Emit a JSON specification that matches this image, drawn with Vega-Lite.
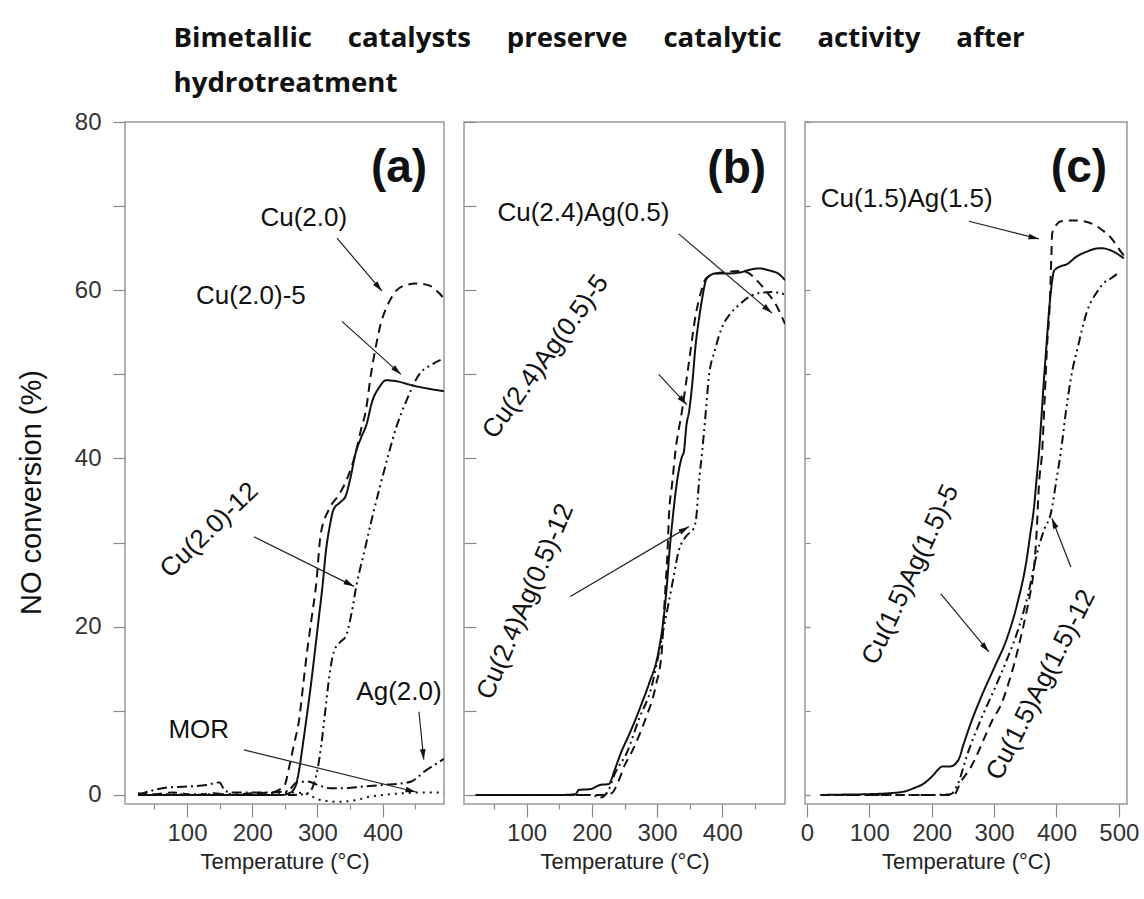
{
  "$schema": "https://vega.github.io/schema/vega-lite/v6.json",
  "padding": {"left": 16, "top": 24, "right": 5, "bottom": 5},
  "background": "white",
  "title": {
    "text": ["Bimetallic\u00a0\u00a0\u00a0\u00a0 catalysts\u00a0\u00a0\u00a0\u00a0 preserve\u00a0\u00a0\u00a0\u00a0 catalytic\u00a0\u00a0\u00a0\u00a0 activity\u00a0\u00a0\u00a0\u00a0 after", "hydrotreatment"],
    "anchor": "start",
    "font": "Open Sans",
    "fontWeight": "bold",
    "fontSize": 27.6,
    "lineHeight": 45,
    "color": "#111",
    "offset": 12,
    "dx": 157
  },
  "datasets": {
    "curves": [
      {"panel": "a", "series": "Cu(2.0)", "kind": "fresh", "T": 25, "v": 0.2},
      {"panel": "a", "series": "Cu(2.0)", "kind": "fresh", "T": 50, "v": 0.1},
      {"panel": "a", "series": "Cu(2.0)", "kind": "fresh", "T": 80, "v": 0.3},
      {"panel": "a", "series": "Cu(2.0)", "kind": "fresh", "T": 110, "v": 0},
      {"panel": "a", "series": "Cu(2.0)", "kind": "fresh", "T": 140, "v": 0.2},
      {"panel": "a", "series": "Cu(2.0)", "kind": "fresh", "T": 170, "v": 0},
      {"panel": "a", "series": "Cu(2.0)", "kind": "fresh", "T": 200, "v": 0.2},
      {"panel": "a", "series": "Cu(2.0)", "kind": "fresh", "T": 230, "v": 0.3},
      {"panel": "a", "series": "Cu(2.0)", "kind": "fresh", "T": 241, "v": 0.6},
      {"panel": "a", "series": "Cu(2.0)", "kind": "fresh", "T": 250, "v": 1.2},
      {"panel": "a", "series": "Cu(2.0)", "kind": "fresh", "T": 256, "v": 3.1},
      {"panel": "a", "series": "Cu(2.0)", "kind": "fresh", "T": 264, "v": 6},
      {"panel": "a", "series": "Cu(2.0)", "kind": "fresh", "T": 272, "v": 9},
      {"panel": "a", "series": "Cu(2.0)", "kind": "fresh", "T": 278, "v": 13},
      {"panel": "a", "series": "Cu(2.0)", "kind": "fresh", "T": 284, "v": 17},
      {"panel": "a", "series": "Cu(2.0)", "kind": "fresh", "T": 291, "v": 21},
      {"panel": "a", "series": "Cu(2.0)", "kind": "fresh", "T": 298, "v": 25},
      {"panel": "a", "series": "Cu(2.0)", "kind": "fresh", "T": 305, "v": 31},
      {"panel": "a", "series": "Cu(2.0)", "kind": "fresh", "T": 318, "v": 34},
      {"panel": "a", "series": "Cu(2.0)", "kind": "fresh", "T": 333, "v": 35.7},
      {"panel": "a", "series": "Cu(2.0)", "kind": "fresh", "T": 345, "v": 37.5},
      {"panel": "a", "series": "Cu(2.0)", "kind": "fresh", "T": 359, "v": 40.8},
      {"panel": "a", "series": "Cu(2.0)", "kind": "fresh", "T": 367, "v": 43.5},
      {"panel": "a", "series": "Cu(2.0)", "kind": "fresh", "T": 374, "v": 45.6},
      {"panel": "a", "series": "Cu(2.0)", "kind": "fresh", "T": 382, "v": 50},
      {"panel": "a", "series": "Cu(2.0)", "kind": "fresh", "T": 390, "v": 53.5},
      {"panel": "a", "series": "Cu(2.0)", "kind": "fresh", "T": 397, "v": 56},
      {"panel": "a", "series": "Cu(2.0)", "kind": "fresh", "T": 405, "v": 57.8},
      {"panel": "a", "series": "Cu(2.0)", "kind": "fresh", "T": 414, "v": 59.2},
      {"panel": "a", "series": "Cu(2.0)", "kind": "fresh", "T": 420, "v": 59.9},
      {"panel": "a", "series": "Cu(2.0)", "kind": "fresh", "T": 435, "v": 60.6},
      {"panel": "a", "series": "Cu(2.0)", "kind": "fresh", "T": 451, "v": 60.8},
      {"panel": "a", "series": "Cu(2.0)", "kind": "fresh", "T": 465, "v": 60.7},
      {"panel": "a", "series": "Cu(2.0)", "kind": "fresh", "T": 476, "v": 60.4},
      {"panel": "a", "series": "Cu(2.0)", "kind": "fresh", "T": 486, "v": 59.7},
      {"panel": "a", "series": "Cu(2.0)", "kind": "fresh", "T": 494, "v": 59},

      {"panel": "a", "series": "Cu(2.0)-5", "kind": "h5", "T": 25, "v": 0},
      {"panel": "a", "series": "Cu(2.0)-5", "kind": "h5", "T": 100, "v": 0},
      {"panel": "a", "series": "Cu(2.0)-5", "kind": "h5", "T": 200, "v": 0},
      {"panel": "a", "series": "Cu(2.0)-5", "kind": "h5", "T": 245, "v": 0},
      {"panel": "a", "series": "Cu(2.0)-5", "kind": "h5", "T": 256, "v": 0.2},
      {"panel": "a", "series": "Cu(2.0)-5", "kind": "h5", "T": 262, "v": 0.5},
      {"panel": "a", "series": "Cu(2.0)-5", "kind": "h5", "T": 267, "v": 1.2},
      {"panel": "a", "series": "Cu(2.0)-5", "kind": "h5", "T": 272, "v": 3},
      {"panel": "a", "series": "Cu(2.0)-5", "kind": "h5", "T": 276, "v": 5.1},
      {"panel": "a", "series": "Cu(2.0)-5", "kind": "h5", "T": 283, "v": 9},
      {"panel": "a", "series": "Cu(2.0)-5", "kind": "h5", "T": 290, "v": 13.1},
      {"panel": "a", "series": "Cu(2.0)-5", "kind": "h5", "T": 296, "v": 17},
      {"panel": "a", "series": "Cu(2.0)-5", "kind": "h5", "T": 302, "v": 21},
      {"panel": "a", "series": "Cu(2.0)-5", "kind": "h5", "T": 308, "v": 25},
      {"panel": "a", "series": "Cu(2.0)-5", "kind": "h5", "T": 313, "v": 29},
      {"panel": "a", "series": "Cu(2.0)-5", "kind": "h5", "T": 319, "v": 32},
      {"panel": "a", "series": "Cu(2.0)-5", "kind": "h5", "T": 325, "v": 34},
      {"panel": "a", "series": "Cu(2.0)-5", "kind": "h5", "T": 335, "v": 34.8},
      {"panel": "a", "series": "Cu(2.0)-5", "kind": "h5", "T": 343, "v": 35.5},
      {"panel": "a", "series": "Cu(2.0)-5", "kind": "h5", "T": 350, "v": 37.5},
      {"panel": "a", "series": "Cu(2.0)-5", "kind": "h5", "T": 359, "v": 40.8},
      {"panel": "a", "series": "Cu(2.0)-5", "kind": "h5", "T": 367, "v": 42.5},
      {"panel": "a", "series": "Cu(2.0)-5", "kind": "h5", "T": 375, "v": 44},
      {"panel": "a", "series": "Cu(2.0)-5", "kind": "h5", "T": 384, "v": 46.8},
      {"panel": "a", "series": "Cu(2.0)-5", "kind": "h5", "T": 395, "v": 48.5},
      {"panel": "a", "series": "Cu(2.0)-5", "kind": "h5", "T": 405, "v": 49.3},
      {"panel": "a", "series": "Cu(2.0)-5", "kind": "h5", "T": 420, "v": 49.2},
      {"panel": "a", "series": "Cu(2.0)-5", "kind": "h5", "T": 445, "v": 48.7},
      {"panel": "a", "series": "Cu(2.0)-5", "kind": "h5", "T": 470, "v": 48.3},
      {"panel": "a", "series": "Cu(2.0)-5", "kind": "h5", "T": 494, "v": 48},

      {"panel": "a", "series": "Cu(2.0)-12", "kind": "h12", "T": 25, "v": 0},
      {"panel": "a", "series": "Cu(2.0)-12", "kind": "h12", "T": 100, "v": 0},
      {"panel": "a", "series": "Cu(2.0)-12", "kind": "h12", "T": 200, "v": 0},
      {"panel": "a", "series": "Cu(2.0)-12", "kind": "h12", "T": 260, "v": 0},
      {"panel": "a", "series": "Cu(2.0)-12", "kind": "h12", "T": 285, "v": 0.2},
      {"panel": "a", "series": "Cu(2.0)-12", "kind": "h12", "T": 293, "v": 1},
      {"panel": "a", "series": "Cu(2.0)-12", "kind": "h12", "T": 300, "v": 3},
      {"panel": "a", "series": "Cu(2.0)-12", "kind": "h12", "T": 306, "v": 6},
      {"panel": "a", "series": "Cu(2.0)-12", "kind": "h12", "T": 312, "v": 10},
      {"panel": "a", "series": "Cu(2.0)-12", "kind": "h12", "T": 318, "v": 14},
      {"panel": "a", "series": "Cu(2.0)-12", "kind": "h12", "T": 325, "v": 17},
      {"panel": "a", "series": "Cu(2.0)-12", "kind": "h12", "T": 335, "v": 18.2},
      {"panel": "a", "series": "Cu(2.0)-12", "kind": "h12", "T": 343, "v": 18.8},
      {"panel": "a", "series": "Cu(2.0)-12", "kind": "h12", "T": 352, "v": 21.5},
      {"panel": "a", "series": "Cu(2.0)-12", "kind": "h12", "T": 360, "v": 25},
      {"panel": "a", "series": "Cu(2.0)-12", "kind": "h12", "T": 372, "v": 29},
      {"panel": "a", "series": "Cu(2.0)-12", "kind": "h12", "T": 384, "v": 33},
      {"panel": "a", "series": "Cu(2.0)-12", "kind": "h12", "T": 397, "v": 37},
      {"panel": "a", "series": "Cu(2.0)-12", "kind": "h12", "T": 410, "v": 40.8},
      {"panel": "a", "series": "Cu(2.0)-12", "kind": "h12", "T": 420, "v": 43.5},
      {"panel": "a", "series": "Cu(2.0)-12", "kind": "h12", "T": 436, "v": 46.8},
      {"panel": "a", "series": "Cu(2.0)-12", "kind": "h12", "T": 456, "v": 50},
      {"panel": "a", "series": "Cu(2.0)-12", "kind": "h12", "T": 476, "v": 51.2},
      {"panel": "a", "series": "Cu(2.0)-12", "kind": "h12", "T": 494, "v": 51.9},

      {"panel": "a", "series": "Ag(2.0)", "kind": "Ag", "T": 25, "v": 0},
      {"panel": "a", "series": "Ag(2.0)", "kind": "Ag", "T": 45, "v": 0.5},
      {"panel": "a", "series": "Ag(2.0)", "kind": "Ag", "T": 70, "v": 0.9},
      {"panel": "a", "series": "Ag(2.0)", "kind": "Ag", "T": 100, "v": 1},
      {"panel": "a", "series": "Ag(2.0)", "kind": "Ag", "T": 130, "v": 1.2},
      {"panel": "a", "series": "Ag(2.0)", "kind": "Ag", "T": 150, "v": 1.5},
      {"panel": "a", "series": "Ag(2.0)", "kind": "Ag", "T": 158, "v": 0.5},
      {"panel": "a", "series": "Ag(2.0)", "kind": "Ag", "T": 170, "v": 0.3},
      {"panel": "a", "series": "Ag(2.0)", "kind": "Ag", "T": 200, "v": 0.3},
      {"panel": "a", "series": "Ag(2.0)", "kind": "Ag", "T": 230, "v": 0.3},
      {"panel": "a", "series": "Ag(2.0)", "kind": "Ag", "T": 255, "v": 0.5},
      {"panel": "a", "series": "Ag(2.0)", "kind": "Ag", "T": 268, "v": 1.5},
      {"panel": "a", "series": "Ag(2.0)", "kind": "Ag", "T": 285, "v": 1.6},
      {"panel": "a", "series": "Ag(2.0)", "kind": "Ag", "T": 300, "v": 1.2},
      {"panel": "a", "series": "Ag(2.0)", "kind": "Ag", "T": 320, "v": 0.8},
      {"panel": "a", "series": "Ag(2.0)", "kind": "Ag", "T": 340, "v": 0.8},
      {"panel": "a", "series": "Ag(2.0)", "kind": "Ag", "T": 370, "v": 1},
      {"panel": "a", "series": "Ag(2.0)", "kind": "Ag", "T": 400, "v": 1.2},
      {"panel": "a", "series": "Ag(2.0)", "kind": "Ag", "T": 430, "v": 1.4},
      {"panel": "a", "series": "Ag(2.0)", "kind": "Ag", "T": 444, "v": 1.6},
      {"panel": "a", "series": "Ag(2.0)", "kind": "Ag", "T": 455, "v": 2.2},
      {"panel": "a", "series": "Ag(2.0)", "kind": "Ag", "T": 464, "v": 2.8},
      {"panel": "a", "series": "Ag(2.0)", "kind": "Ag", "T": 480, "v": 3.6},
      {"panel": "a", "series": "Ag(2.0)", "kind": "Ag", "T": 494, "v": 4.3},

      {"panel": "a", "series": "MOR", "kind": "MOR", "T": 25, "v": 0},
      {"panel": "a", "series": "MOR", "kind": "MOR", "T": 80, "v": 0.1},
      {"panel": "a", "series": "MOR", "kind": "MOR", "T": 150, "v": 0.1},
      {"panel": "a", "series": "MOR", "kind": "MOR", "T": 220, "v": 0.2},
      {"panel": "a", "series": "MOR", "kind": "MOR", "T": 260, "v": 0.3},
      {"panel": "a", "series": "MOR", "kind": "MOR", "T": 285, "v": 0.1},
      {"panel": "a", "series": "MOR", "kind": "MOR", "T": 300, "v": -0.5},
      {"panel": "a", "series": "MOR", "kind": "MOR", "T": 330, "v": -0.8},
      {"panel": "a", "series": "MOR", "kind": "MOR", "T": 360, "v": -0.6},
      {"panel": "a", "series": "MOR", "kind": "MOR", "T": 380, "v": -0.2},
      {"panel": "a", "series": "MOR", "kind": "MOR", "T": 400, "v": 0},
      {"panel": "a", "series": "MOR", "kind": "MOR", "T": 430, "v": 0.2},
      {"panel": "a", "series": "MOR", "kind": "MOR", "T": 460, "v": 0.3},
      {"panel": "a", "series": "MOR", "kind": "MOR", "T": 494, "v": 0.3},

      {"panel": "b", "series": "Cu(2.4)Ag(0.5)", "kind": "fresh", "T": 22, "v": 0},
      {"panel": "b", "series": "Cu(2.4)Ag(0.5)", "kind": "fresh", "T": 100, "v": 0},
      {"panel": "b", "series": "Cu(2.4)Ag(0.5)", "kind": "fresh", "T": 190, "v": 0},
      {"panel": "b", "series": "Cu(2.4)Ag(0.5)", "kind": "fresh", "T": 215, "v": 0},
      {"panel": "b", "series": "Cu(2.4)Ag(0.5)", "kind": "fresh", "T": 230, "v": 0.2},
      {"panel": "b", "series": "Cu(2.4)Ag(0.5)", "kind": "fresh", "T": 240, "v": 1.5},
      {"panel": "b", "series": "Cu(2.4)Ag(0.5)", "kind": "fresh", "T": 250, "v": 3.5},
      {"panel": "b", "series": "Cu(2.4)Ag(0.5)", "kind": "fresh", "T": 261, "v": 5.1},
      {"panel": "b", "series": "Cu(2.4)Ag(0.5)", "kind": "fresh", "T": 272, "v": 7},
      {"panel": "b", "series": "Cu(2.4)Ag(0.5)", "kind": "fresh", "T": 282, "v": 9},
      {"panel": "b", "series": "Cu(2.4)Ag(0.5)", "kind": "fresh", "T": 298, "v": 13},
      {"panel": "b", "series": "Cu(2.4)Ag(0.5)", "kind": "fresh", "T": 307, "v": 17},
      {"panel": "b", "series": "Cu(2.4)Ag(0.5)", "kind": "fresh", "T": 310, "v": 21},
      {"panel": "b", "series": "Cu(2.4)Ag(0.5)", "kind": "fresh", "T": 313, "v": 25},
      {"panel": "b", "series": "Cu(2.4)Ag(0.5)", "kind": "fresh", "T": 316, "v": 29},
      {"panel": "b", "series": "Cu(2.4)Ag(0.5)", "kind": "fresh", "T": 318, "v": 33},
      {"panel": "b", "series": "Cu(2.4)Ag(0.5)", "kind": "fresh", "T": 323, "v": 37},
      {"panel": "b", "series": "Cu(2.4)Ag(0.5)", "kind": "fresh", "T": 328, "v": 40.8},
      {"panel": "b", "series": "Cu(2.4)Ag(0.5)", "kind": "fresh", "T": 338, "v": 45.6},
      {"panel": "b", "series": "Cu(2.4)Ag(0.5)", "kind": "fresh", "T": 348, "v": 51},
      {"panel": "b", "series": "Cu(2.4)Ag(0.5)", "kind": "fresh", "T": 359, "v": 57},
      {"panel": "b", "series": "Cu(2.4)Ag(0.5)", "kind": "fresh", "T": 368, "v": 60},
      {"panel": "b", "series": "Cu(2.4)Ag(0.5)", "kind": "fresh", "T": 375, "v": 61.4},
      {"panel": "b", "series": "Cu(2.4)Ag(0.5)", "kind": "fresh", "T": 390, "v": 62},
      {"panel": "b", "series": "Cu(2.4)Ag(0.5)", "kind": "fresh", "T": 410, "v": 62.2},
      {"panel": "b", "series": "Cu(2.4)Ag(0.5)", "kind": "fresh", "T": 430, "v": 62.3},
      {"panel": "b", "series": "Cu(2.4)Ag(0.5)", "kind": "fresh", "T": 441, "v": 62},
      {"panel": "b", "series": "Cu(2.4)Ag(0.5)", "kind": "fresh", "T": 455, "v": 61},
      {"panel": "b", "series": "Cu(2.4)Ag(0.5)", "kind": "fresh", "T": 467, "v": 59.9},
      {"panel": "b", "series": "Cu(2.4)Ag(0.5)", "kind": "fresh", "T": 482, "v": 58.3},
      {"panel": "b", "series": "Cu(2.4)Ag(0.5)", "kind": "fresh", "T": 496, "v": 56},

      {"panel": "b", "series": "Cu(2.4)Ag(0.5)-5", "kind": "h5", "T": 22, "v": 0},
      {"panel": "b", "series": "Cu(2.4)Ag(0.5)-5", "kind": "h5", "T": 100, "v": 0},
      {"panel": "b", "series": "Cu(2.4)Ag(0.5)-5", "kind": "h5", "T": 150, "v": 0},
      {"panel": "b", "series": "Cu(2.4)Ag(0.5)-5", "kind": "h5", "T": 175, "v": 0.1},
      {"panel": "b", "series": "Cu(2.4)Ag(0.5)-5", "kind": "h5", "T": 180, "v": 0.6},
      {"panel": "b", "series": "Cu(2.4)Ag(0.5)-5", "kind": "h5", "T": 198, "v": 0.7},
      {"panel": "b", "series": "Cu(2.4)Ag(0.5)-5", "kind": "h5", "T": 213, "v": 1.2},
      {"panel": "b", "series": "Cu(2.4)Ag(0.5)-5", "kind": "h5", "T": 226, "v": 1.3},
      {"panel": "b", "series": "Cu(2.4)Ag(0.5)-5", "kind": "h5", "T": 235, "v": 3},
      {"panel": "b", "series": "Cu(2.4)Ag(0.5)-5", "kind": "h5", "T": 245, "v": 5.1},
      {"panel": "b", "series": "Cu(2.4)Ag(0.5)-5", "kind": "h5", "T": 256, "v": 7},
      {"panel": "b", "series": "Cu(2.4)Ag(0.5)-5", "kind": "h5", "T": 267, "v": 9},
      {"panel": "b", "series": "Cu(2.4)Ag(0.5)-5", "kind": "h5", "T": 277, "v": 11},
      {"panel": "b", "series": "Cu(2.4)Ag(0.5)-5", "kind": "h5", "T": 287, "v": 13.1},
      {"panel": "b", "series": "Cu(2.4)Ag(0.5)-5", "kind": "h5", "T": 302, "v": 17},
      {"panel": "b", "series": "Cu(2.4)Ag(0.5)-5", "kind": "h5", "T": 310, "v": 21},
      {"panel": "b", "series": "Cu(2.4)Ag(0.5)-5", "kind": "h5", "T": 315, "v": 25},
      {"panel": "b", "series": "Cu(2.4)Ag(0.5)-5", "kind": "h5", "T": 319, "v": 29},
      {"panel": "b", "series": "Cu(2.4)Ag(0.5)-5", "kind": "h5", "T": 324, "v": 33},
      {"panel": "b", "series": "Cu(2.4)Ag(0.5)-5", "kind": "h5", "T": 330, "v": 37},
      {"panel": "b", "series": "Cu(2.4)Ag(0.5)-5", "kind": "h5", "T": 338, "v": 40.2},
      {"panel": "b", "series": "Cu(2.4)Ag(0.5)-5", "kind": "h5", "T": 341, "v": 40.8},
      {"panel": "b", "series": "Cu(2.4)Ag(0.5)-5", "kind": "h5", "T": 345, "v": 44},
      {"panel": "b", "series": "Cu(2.4)Ag(0.5)-5", "kind": "h5", "T": 349, "v": 45.6},
      {"panel": "b", "series": "Cu(2.4)Ag(0.5)-5", "kind": "h5", "T": 354, "v": 49},
      {"panel": "b", "series": "Cu(2.4)Ag(0.5)-5", "kind": "h5", "T": 359, "v": 53.5},
      {"panel": "b", "series": "Cu(2.4)Ag(0.5)-5", "kind": "h5", "T": 364, "v": 56.5},
      {"panel": "b", "series": "Cu(2.4)Ag(0.5)-5", "kind": "h5", "T": 369, "v": 59},
      {"panel": "b", "series": "Cu(2.4)Ag(0.5)-5", "kind": "h5", "T": 376, "v": 61.4},
      {"panel": "b", "series": "Cu(2.4)Ag(0.5)-5", "kind": "h5", "T": 390, "v": 62},
      {"panel": "b", "series": "Cu(2.4)Ag(0.5)-5", "kind": "h5", "T": 410, "v": 62},
      {"panel": "b", "series": "Cu(2.4)Ag(0.5)-5", "kind": "h5", "T": 426, "v": 62.1},
      {"panel": "b", "series": "Cu(2.4)Ag(0.5)-5", "kind": "h5", "T": 440, "v": 62.4},
      {"panel": "b", "series": "Cu(2.4)Ag(0.5)-5", "kind": "h5", "T": 456, "v": 62.6},
      {"panel": "b", "series": "Cu(2.4)Ag(0.5)-5", "kind": "h5", "T": 470, "v": 62.4},
      {"panel": "b", "series": "Cu(2.4)Ag(0.5)-5", "kind": "h5", "T": 487, "v": 61.9},
      {"panel": "b", "series": "Cu(2.4)Ag(0.5)-5", "kind": "h5", "T": 496, "v": 61.2},

      {"panel": "b", "series": "Cu(2.4)Ag(0.5)-12", "kind": "h12", "T": 22, "v": 0},
      {"panel": "b", "series": "Cu(2.4)Ag(0.5)-12", "kind": "h12", "T": 100, "v": 0},
      {"panel": "b", "series": "Cu(2.4)Ag(0.5)-12", "kind": "h12", "T": 200, "v": 0},
      {"panel": "b", "series": "Cu(2.4)Ag(0.5)-12", "kind": "h12", "T": 213, "v": -0.3},
      {"panel": "b", "series": "Cu(2.4)Ag(0.5)-12", "kind": "h12", "T": 225, "v": 0.5},
      {"panel": "b", "series": "Cu(2.4)Ag(0.5)-12", "kind": "h12", "T": 235, "v": 2.5},
      {"panel": "b", "series": "Cu(2.4)Ag(0.5)-12", "kind": "h12", "T": 254, "v": 5.1},
      {"panel": "b", "series": "Cu(2.4)Ag(0.5)-12", "kind": "h12", "T": 272, "v": 9},
      {"panel": "b", "series": "Cu(2.4)Ag(0.5)-12", "kind": "h12", "T": 292, "v": 13},
      {"panel": "b", "series": "Cu(2.4)Ag(0.5)-12", "kind": "h12", "T": 303, "v": 17},
      {"panel": "b", "series": "Cu(2.4)Ag(0.5)-12", "kind": "h12", "T": 313, "v": 21},
      {"panel": "b", "series": "Cu(2.4)Ag(0.5)-12", "kind": "h12", "T": 323, "v": 25},
      {"panel": "b", "series": "Cu(2.4)Ag(0.5)-12", "kind": "h12", "T": 333, "v": 29},
      {"panel": "b", "series": "Cu(2.4)Ag(0.5)-12", "kind": "h12", "T": 345, "v": 30.8},
      {"panel": "b", "series": "Cu(2.4)Ag(0.5)-12", "kind": "h12", "T": 356, "v": 31.7},
      {"panel": "b", "series": "Cu(2.4)Ag(0.5)-12", "kind": "h12", "T": 360, "v": 33},
      {"panel": "b", "series": "Cu(2.4)Ag(0.5)-12", "kind": "h12", "T": 364, "v": 37},
      {"panel": "b", "series": "Cu(2.4)Ag(0.5)-12", "kind": "h12", "T": 369, "v": 40.8},
      {"panel": "b", "series": "Cu(2.4)Ag(0.5)-12", "kind": "h12", "T": 374, "v": 45},
      {"panel": "b", "series": "Cu(2.4)Ag(0.5)-12", "kind": "h12", "T": 379, "v": 49.5},
      {"panel": "b", "series": "Cu(2.4)Ag(0.5)-12", "kind": "h12", "T": 389, "v": 53},
      {"panel": "b", "series": "Cu(2.4)Ag(0.5)-12", "kind": "h12", "T": 399, "v": 55.5},
      {"panel": "b", "series": "Cu(2.4)Ag(0.5)-12", "kind": "h12", "T": 412, "v": 57.2},
      {"panel": "b", "series": "Cu(2.4)Ag(0.5)-12", "kind": "h12", "T": 426, "v": 58.3},
      {"panel": "b", "series": "Cu(2.4)Ag(0.5)-12", "kind": "h12", "T": 452, "v": 59.6},
      {"panel": "b", "series": "Cu(2.4)Ag(0.5)-12", "kind": "h12", "T": 475, "v": 59.8},
      {"panel": "b", "series": "Cu(2.4)Ag(0.5)-12", "kind": "h12", "T": 496, "v": 59.5},

      {"panel": "c", "series": "Cu(1.5)Ag(1.5)", "kind": "fresh", "T": 22, "v": 0},
      {"panel": "c", "series": "Cu(1.5)Ag(1.5)", "kind": "fresh", "T": 100, "v": 0},
      {"panel": "c", "series": "Cu(1.5)Ag(1.5)", "kind": "fresh", "T": 155, "v": 0},
      {"panel": "c", "series": "Cu(1.5)Ag(1.5)", "kind": "fresh", "T": 200, "v": 0},
      {"panel": "c", "series": "Cu(1.5)Ag(1.5)", "kind": "fresh", "T": 235, "v": 0},
      {"panel": "c", "series": "Cu(1.5)Ag(1.5)", "kind": "fresh", "T": 247, "v": 1.6},
      {"panel": "c", "series": "Cu(1.5)Ag(1.5)", "kind": "fresh", "T": 262, "v": 3.2},
      {"panel": "c", "series": "Cu(1.5)Ag(1.5)", "kind": "fresh", "T": 274, "v": 5},
      {"panel": "c", "series": "Cu(1.5)Ag(1.5)", "kind": "fresh", "T": 284, "v": 6.7},
      {"panel": "c", "series": "Cu(1.5)Ag(1.5)", "kind": "fresh", "T": 298, "v": 9},
      {"panel": "c", "series": "Cu(1.5)Ag(1.5)", "kind": "fresh", "T": 311, "v": 10.7},
      {"panel": "c", "series": "Cu(1.5)Ag(1.5)", "kind": "fresh", "T": 322, "v": 13},
      {"panel": "c", "series": "Cu(1.5)Ag(1.5)", "kind": "fresh", "T": 332, "v": 15.5},
      {"panel": "c", "series": "Cu(1.5)Ag(1.5)", "kind": "fresh", "T": 342, "v": 18.5},
      {"panel": "c", "series": "Cu(1.5)Ag(1.5)", "kind": "fresh", "T": 352, "v": 21.8},
      {"panel": "c", "series": "Cu(1.5)Ag(1.5)", "kind": "fresh", "T": 358, "v": 24},
      {"panel": "c", "series": "Cu(1.5)Ag(1.5)", "kind": "fresh", "T": 364, "v": 27},
      {"panel": "c", "series": "Cu(1.5)Ag(1.5)", "kind": "fresh", "T": 368, "v": 31},
      {"panel": "c", "series": "Cu(1.5)Ag(1.5)", "kind": "fresh", "T": 372, "v": 37},
      {"panel": "c", "series": "Cu(1.5)Ag(1.5)", "kind": "fresh", "T": 377, "v": 40.8},
      {"panel": "c", "series": "Cu(1.5)Ag(1.5)", "kind": "fresh", "T": 381, "v": 47},
      {"panel": "c", "series": "Cu(1.5)Ag(1.5)", "kind": "fresh", "T": 385, "v": 53.5},
      {"panel": "c", "series": "Cu(1.5)Ag(1.5)", "kind": "fresh", "T": 389, "v": 58},
      {"panel": "c", "series": "Cu(1.5)Ag(1.5)", "kind": "fresh", "T": 391, "v": 62.3},
      {"panel": "c", "series": "Cu(1.5)Ag(1.5)", "kind": "fresh", "T": 392, "v": 64.5},
      {"panel": "c", "series": "Cu(1.5)Ag(1.5)", "kind": "fresh", "T": 393, "v": 66.7},
      {"panel": "c", "series": "Cu(1.5)Ag(1.5)", "kind": "fresh", "T": 400, "v": 67.8},
      {"panel": "c", "series": "Cu(1.5)Ag(1.5)", "kind": "fresh", "T": 407, "v": 68.2},
      {"panel": "c", "series": "Cu(1.5)Ag(1.5)", "kind": "fresh", "T": 425, "v": 68.3},
      {"panel": "c", "series": "Cu(1.5)Ag(1.5)", "kind": "fresh", "T": 444, "v": 68.2},
      {"panel": "c", "series": "Cu(1.5)Ag(1.5)", "kind": "fresh", "T": 460, "v": 67.8},
      {"panel": "c", "series": "Cu(1.5)Ag(1.5)", "kind": "fresh", "T": 476, "v": 67},
      {"panel": "c", "series": "Cu(1.5)Ag(1.5)", "kind": "fresh", "T": 490, "v": 66},
      {"panel": "c", "series": "Cu(1.5)Ag(1.5)", "kind": "fresh", "T": 503, "v": 64.6},
      {"panel": "c", "series": "Cu(1.5)Ag(1.5)", "kind": "fresh", "T": 512, "v": 63.8},

      {"panel": "c", "series": "Cu(1.5)Ag(1.5)-5", "kind": "h5", "T": 22, "v": 0},
      {"panel": "c", "series": "Cu(1.5)Ag(1.5)-5", "kind": "h5", "T": 60, "v": 0.05},
      {"panel": "c", "series": "Cu(1.5)Ag(1.5)-5", "kind": "h5", "T": 100, "v": 0.1},
      {"panel": "c", "series": "Cu(1.5)Ag(1.5)-5", "kind": "h5", "T": 130, "v": 0.2},
      {"panel": "c", "series": "Cu(1.5)Ag(1.5)-5", "kind": "h5", "T": 155, "v": 0.4},
      {"panel": "c", "series": "Cu(1.5)Ag(1.5)-5", "kind": "h5", "T": 171, "v": 0.8},
      {"panel": "c", "series": "Cu(1.5)Ag(1.5)-5", "kind": "h5", "T": 188, "v": 1.4},
      {"panel": "c", "series": "Cu(1.5)Ag(1.5)-5", "kind": "h5", "T": 203, "v": 2.4},
      {"panel": "c", "series": "Cu(1.5)Ag(1.5)-5", "kind": "h5", "T": 210, "v": 3},
      {"panel": "c", "series": "Cu(1.5)Ag(1.5)-5", "kind": "h5", "T": 217, "v": 3.4},
      {"panel": "c", "series": "Cu(1.5)Ag(1.5)-5", "kind": "h5", "T": 230, "v": 3.4},
      {"panel": "c", "series": "Cu(1.5)Ag(1.5)-5", "kind": "h5", "T": 243, "v": 4.2},
      {"panel": "c", "series": "Cu(1.5)Ag(1.5)-5", "kind": "h5", "T": 251, "v": 6},
      {"panel": "c", "series": "Cu(1.5)Ag(1.5)-5", "kind": "h5", "T": 262, "v": 8.4},
      {"panel": "c", "series": "Cu(1.5)Ag(1.5)-5", "kind": "h5", "T": 279, "v": 11.6},
      {"panel": "c", "series": "Cu(1.5)Ag(1.5)-5", "kind": "h5", "T": 300, "v": 15.1},
      {"panel": "c", "series": "Cu(1.5)Ag(1.5)-5", "kind": "h5", "T": 321, "v": 18.7},
      {"panel": "c", "series": "Cu(1.5)Ag(1.5)-5", "kind": "h5", "T": 337, "v": 22.7},
      {"panel": "c", "series": "Cu(1.5)Ag(1.5)-5", "kind": "h5", "T": 352, "v": 27.9},
      {"panel": "c", "series": "Cu(1.5)Ag(1.5)-5", "kind": "h5", "T": 358, "v": 31},
      {"panel": "c", "series": "Cu(1.5)Ag(1.5)-5", "kind": "h5", "T": 364, "v": 34.2},
      {"panel": "c", "series": "Cu(1.5)Ag(1.5)-5", "kind": "h5", "T": 368, "v": 37.5},
      {"panel": "c", "series": "Cu(1.5)Ag(1.5)-5", "kind": "h5", "T": 372, "v": 40.8},
      {"panel": "c", "series": "Cu(1.5)Ag(1.5)-5", "kind": "h5", "T": 376, "v": 45},
      {"panel": "c", "series": "Cu(1.5)Ag(1.5)-5", "kind": "h5", "T": 380, "v": 49.5},
      {"panel": "c", "series": "Cu(1.5)Ag(1.5)-5", "kind": "h5", "T": 384, "v": 53.5},
      {"panel": "c", "series": "Cu(1.5)Ag(1.5)-5", "kind": "h5", "T": 388, "v": 57.5},
      {"panel": "c", "series": "Cu(1.5)Ag(1.5)-5", "kind": "h5", "T": 392, "v": 60.5},
      {"panel": "c", "series": "Cu(1.5)Ag(1.5)-5", "kind": "h5", "T": 396, "v": 62.3},
      {"panel": "c", "series": "Cu(1.5)Ag(1.5)-5", "kind": "h5", "T": 405, "v": 62.8},
      {"panel": "c", "series": "Cu(1.5)Ag(1.5)-5", "kind": "h5", "T": 417, "v": 63.1},
      {"panel": "c", "series": "Cu(1.5)Ag(1.5)-5", "kind": "h5", "T": 432, "v": 64},
      {"panel": "c", "series": "Cu(1.5)Ag(1.5)-5", "kind": "h5", "T": 449, "v": 64.6},
      {"panel": "c", "series": "Cu(1.5)Ag(1.5)-5", "kind": "h5", "T": 460, "v": 64.9},
      {"panel": "c", "series": "Cu(1.5)Ag(1.5)-5", "kind": "h5", "T": 471, "v": 65},
      {"panel": "c", "series": "Cu(1.5)Ag(1.5)-5", "kind": "h5", "T": 485, "v": 64.8},
      {"panel": "c", "series": "Cu(1.5)Ag(1.5)-5", "kind": "h5", "T": 498, "v": 64.3},
      {"panel": "c", "series": "Cu(1.5)Ag(1.5)-5", "kind": "h5", "T": 508, "v": 63.8},

      {"panel": "c", "series": "Cu(1.5)Ag(1.5)-12", "kind": "h12", "T": 22, "v": 0},
      {"panel": "c", "series": "Cu(1.5)Ag(1.5)-12", "kind": "h12", "T": 100, "v": 0},
      {"panel": "c", "series": "Cu(1.5)Ag(1.5)-12", "kind": "h12", "T": 160, "v": 0},
      {"panel": "c", "series": "Cu(1.5)Ag(1.5)-12", "kind": "h12", "T": 200, "v": 0},
      {"panel": "c", "series": "Cu(1.5)Ag(1.5)-12", "kind": "h12", "T": 230, "v": 0.1},
      {"panel": "c", "series": "Cu(1.5)Ag(1.5)-12", "kind": "h12", "T": 243, "v": 1.5},
      {"panel": "c", "series": "Cu(1.5)Ag(1.5)-12", "kind": "h12", "T": 256, "v": 4.6},
      {"panel": "c", "series": "Cu(1.5)Ag(1.5)-12", "kind": "h12", "T": 268, "v": 7},
      {"panel": "c", "series": "Cu(1.5)Ag(1.5)-12", "kind": "h12", "T": 279, "v": 9},
      {"panel": "c", "series": "Cu(1.5)Ag(1.5)-12", "kind": "h12", "T": 300, "v": 12.5},
      {"panel": "c", "series": "Cu(1.5)Ag(1.5)-12", "kind": "h12", "T": 320, "v": 16},
      {"panel": "c", "series": "Cu(1.5)Ag(1.5)-12", "kind": "h12", "T": 340, "v": 20},
      {"panel": "c", "series": "Cu(1.5)Ag(1.5)-12", "kind": "h12", "T": 355, "v": 24},
      {"panel": "c", "series": "Cu(1.5)Ag(1.5)-12", "kind": "h12", "T": 368, "v": 28.5},
      {"panel": "c", "series": "Cu(1.5)Ag(1.5)-12", "kind": "h12", "T": 380, "v": 31.5},
      {"panel": "c", "series": "Cu(1.5)Ag(1.5)-12", "kind": "h12", "T": 391, "v": 33.5},
      {"panel": "c", "series": "Cu(1.5)Ag(1.5)-12", "kind": "h12", "T": 400, "v": 37.5},
      {"panel": "c", "series": "Cu(1.5)Ag(1.5)-12", "kind": "h12", "T": 407, "v": 40.8},
      {"panel": "c", "series": "Cu(1.5)Ag(1.5)-12", "kind": "h12", "T": 415, "v": 45.5},
      {"panel": "c", "series": "Cu(1.5)Ag(1.5)-12", "kind": "h12", "T": 423, "v": 49.5},
      {"panel": "c", "series": "Cu(1.5)Ag(1.5)-12", "kind": "h12", "T": 435, "v": 53.5},
      {"panel": "c", "series": "Cu(1.5)Ag(1.5)-12", "kind": "h12", "T": 449, "v": 57.5},
      {"panel": "c", "series": "Cu(1.5)Ag(1.5)-12", "kind": "h12", "T": 465, "v": 59.8},
      {"panel": "c", "series": "Cu(1.5)Ag(1.5)-12", "kind": "h12", "T": 478, "v": 61},
      {"panel": "c", "series": "Cu(1.5)Ag(1.5)-12", "kind": "h12", "T": 487, "v": 61.4},
      {"panel": "c", "series": "Cu(1.5)Ag(1.5)-12", "kind": "h12", "T": 498, "v": 62}
    ],
    "labels": [
      {"panel": "a", "text": "Cu(2.0)", "T": 279, "v": 68.6},
      {"panel": "a", "text": "Cu(2.0)-5", "T": 198, "v": 59.3},
      {"panel": "a", "text": "Cu(2.0)-12", "T": 134, "v": 31.5},
      {"panel": "a", "text": "MOR", "T": 118, "v": 7.7},
      {"panel": "a", "text": "Ag(2.0)", "T": 425, "v": 12.3},
      {"panel": "b", "text": "Cu(2.4)Ag(0.5)", "T": 187, "v": 69.2},
      {"panel": "b", "text": "Cu(2.4)Ag(0.5)-5", "T": 129, "v": 52.1},
      {"panel": "b", "text": "Cu(2.4)Ag(0.5)-12", "T": 98, "v": 23},
      {"panel": "c", "text": "Cu(1.5)Ag(1.5)", "T": 160, "v": 70.8},
      {"panel": "c", "text": "Cu(1.5)Ag(1.5)-5", "T": 166, "v": 26.2},
      {"panel": "c", "text": "Cu(1.5)Ag(1.5)-12", "T": 375, "v": 13.1}
    ],
    "tags": [
      {"panel": "a", "text": "(a)", "T": 425, "v": 74.5},
      {"panel": "b", "text": "(b)", "T": 422, "v": 74.4},
      {"panel": "c", "text": "(c)", "T": 436, "v": 74.5}
    ],
    "arrows": [
      {"panel": "a", "T": 329.9, "v": 66.2, "T2": 398.9, "v2": 59.9, "dir": 140},
      {"panel": "a", "T": 337.6, "v": 56.3, "T2": 428, "v2": 50, "dir": 132},
      {"panel": "a", "T": 202.7, "v": 30.7, "T2": 356, "v2": 24.8, "dir": 117},
      {"panel": "a", "T": 187.4, "v": 5.36, "T2": 451, "v2": 0.36, "dir": 104},
      {"panel": "a", "T": 455.6, "v": 9.9, "T2": 463, "v2": 4.2, "dir": 174},
      {"panel": "b", "T": 333, "v": 66.7, "T2": 476, "v2": 57.3, "dir": 130},
      {"panel": "b", "T": 302.5, "v": 50, "T2": 345.5, "v2": 46.4, "dir": 137},
      {"panel": "b", "T": 167, "v": 23.6, "T2": 348.6, "v2": 31.9, "dir": 59},
      {"panel": "c", "T": 259.6, "v": 68.2, "T2": 371.8, "v2": 66.1, "dir": 104},
      {"panel": "c", "T": 214.7, "v": 23.9, "T2": 291.7, "v2": 17, "dir": 140},
      {"panel": "c", "T": 423, "v": 27.1, "T2": 392.6, "v2": 32.9, "dir": -22}
    ]
  },
  "spacing": 20,
  "bounds": "flush",
  "hconcat": [
    {
      "width": 319,
      "height": 682,
      "resolve": {"axis": {"x": "independent"}},
      "layer": [
        {
          "data": {"name": "curves"},
          "transform": [{"filter": "datum.panel === 'a'"}],
          "mark": {"type": "line", "color": "#111", "strokeWidth": 2, "clip": true, "interpolate": "monotone"},
          "encoding": {
            "x": {"field": "T", "type": "quantitative", "scale": {"domain": [5, 494], "nice": false, "zero": false},
              "axis": {"title": "Temperature (°C)", "orient": "bottom", "values": [100, 200, 300, 400], "tickSize": 13}},
            "y": {"field": "v", "type": "quantitative", "scale": {"domain": [-1.07, 80], "nice": false, "zero": false},
              "axis": {"title": "NO conversion (%)", "values": [0, 10, 20, 30, 40, 50, 60, 70, 80],
                "labelOpacity": {"condition": {"test": "datum.value % 20 !== 0", "value": 0}, "value": 1},
                "tickSize": 12, "labelPadding": 12, "titleFontSize": 29, "titlePadding": 28, "titleY": 370, "titleColor": "#111"}},
            "detail": {"field": "series"},
            "strokeDash": {"field": "kind", "type": "nominal", "legend": null,
              "scale": {"domain": ["fresh", "h5", "h12", "Ag", "MOR"], "range": [[9, 6], [1, 0], [9, 4, 2, 4, 2, 4], [10, 4, 2, 4], [2, 5]]}}
          }
        },
        {
          "data": {"name": "labels"},
          "transform": [{"filter": "datum.panel === 'a' && datum.text !== 'Cu(2.0)-12'"}],
          "mark": {"type": "text", "font": "Liberation Sans", "fontSize": 26, "color": "#111"},
          "encoding": {
            "x": {"field": "T", "type": "quantitative",
              "axis": {"title": null, "orient": "bottom", "values": [50, 150, 250, 350, 450], "tickSize": 5, "labels": false}},
            "y": {"field": "v", "type": "quantitative"},
            "text": {"field": "text"}
          }
        },
        {
          "data": {"name": "labels"},
          "transform": [{"filter": "datum.text === 'Cu(2.0)-12'"}],
          "mark": {"type": "text", "font": "Liberation Sans", "fontSize": 26, "color": "#111", "angle": -44},
          "encoding": {"x": {"field": "T", "type": "quantitative", "axis": null}, "y": {"field": "v", "type": "quantitative"}, "text": {"field": "text"}}
        },
        {
          "data": {"name": "tags"},
          "transform": [{"filter": "datum.panel === 'a'"}],
          "mark": {"type": "text", "font": "Liberation Sans", "fontSize": 46, "fontWeight": "bold", "color": "#111"},
          "encoding": {"x": {"field": "T", "type": "quantitative", "axis": null}, "y": {"field": "v", "type": "quantitative"}, "text": {"field": "text"}}
        },
        {
          "data": {"name": "arrows"},
          "transform": [{"filter": "datum.panel === 'a'"}],
          "mark": {"type": "rule", "color": "#222", "strokeWidth": 1.2},
          "encoding": {"x": {"field": "T", "type": "quantitative", "axis": null}, "y": {"field": "v", "type": "quantitative"}, "x2": {"field": "T2"}, "y2": {"field": "v2"}}
        },
        {
          "data": {"name": "arrows"},
          "transform": [{"filter": "datum.panel === 'a'"}],
          "mark": {"type": "point", "shape": "M0,0L0.6,2.2L-0.6,2.2Z", "filled": true, "color": "#111", "size": 90, "opacity": 1},
          "encoding": {"x": {"field": "T2", "type": "quantitative", "axis": null}, "y": {"field": "v2", "type": "quantitative"}, "angle": {"field": "dir", "type": "quantitative", "scale": null}}
        }
      ]
    },
    {
      "width": 321,
      "height": 682,
      "layer": [
        {
          "data": {"name": "curves"},
          "transform": [{"filter": "datum.panel === 'b'"}],
          "mark": {"type": "line", "color": "#111", "strokeWidth": 2, "clip": true, "interpolate": "monotone"},
          "encoding": {
            "x": {"field": "T", "type": "quantitative", "scale": {"domain": [4, 496], "nice": false, "zero": false},
              "axis": {"title": "Temperature (°C)", "values": [50, 100, 150, 200, 250, 300, 350, 400, 450],
                "labelExpr": "datum.value % 100 === 0 ? datum.label : ''",
                "tickSize": {"condition": {"test": "datum.value % 100 === 0", "value": 13}, "value": 5}}},
            "y": {"field": "v", "type": "quantitative", "scale": {"domain": [-1.07, 80], "nice": false, "zero": false},
              "axis": {"title": null, "labels": false, "values": [0, 10, 20, 30, 40, 50, 60, 70, 80], "tickSize": -12}},
            "detail": {"field": "series"},
            "strokeDash": {"field": "kind", "type": "nominal", "legend": null,
              "scale": {"domain": ["fresh", "h5", "h12", "Ag", "MOR"], "range": [[9, 6], [1, 0], [9, 4, 2, 4, 2, 4], [10, 4, 2, 4], [2, 5]]}}
          }
        },
        {
          "data": {"name": "labels"},
          "transform": [{"filter": "datum.text === 'Cu(2.4)Ag(0.5)'"}],
          "mark": {"type": "text", "font": "Liberation Sans", "fontSize": 26, "color": "#111"},
          "encoding": {"x": {"field": "T", "type": "quantitative"}, "y": {"field": "v", "type": "quantitative"}, "text": {"field": "text"}}
        },
        {
          "data": {"name": "labels"},
          "transform": [{"filter": "datum.text === 'Cu(2.4)Ag(0.5)-5'"}],
          "mark": {"type": "text", "font": "Liberation Sans", "fontSize": 26, "color": "#111", "angle": -54},
          "encoding": {"x": {"field": "T", "type": "quantitative"}, "y": {"field": "v", "type": "quantitative"}, "text": {"field": "text"}}
        },
        {
          "data": {"name": "labels"},
          "transform": [{"filter": "datum.text === 'Cu(2.4)Ag(0.5)-12'"}],
          "mark": {"type": "text", "font": "Liberation Sans", "fontSize": 26, "color": "#111", "angle": -67},
          "encoding": {"x": {"field": "T", "type": "quantitative"}, "y": {"field": "v", "type": "quantitative"}, "text": {"field": "text"}}
        },
        {
          "data": {"name": "tags"},
          "transform": [{"filter": "datum.panel === 'b'"}],
          "mark": {"type": "text", "font": "Liberation Sans", "fontSize": 46, "fontWeight": "bold", "color": "#111"},
          "encoding": {"x": {"field": "T", "type": "quantitative"}, "y": {"field": "v", "type": "quantitative"}, "text": {"field": "text"}}
        },
        {
          "data": {"name": "arrows"},
          "transform": [{"filter": "datum.panel === 'b'"}],
          "mark": {"type": "rule", "color": "#222", "strokeWidth": 1.2},
          "encoding": {"x": {"field": "T", "type": "quantitative"}, "y": {"field": "v", "type": "quantitative"}, "x2": {"field": "T2"}, "y2": {"field": "v2"}}
        },
        {
          "data": {"name": "arrows"},
          "transform": [{"filter": "datum.panel === 'b'"}],
          "mark": {"type": "point", "shape": "M0,0L0.6,2.2L-0.6,2.2Z", "filled": true, "color": "#111", "size": 90, "opacity": 1},
          "encoding": {"x": {"field": "T2", "type": "quantitative"}, "y": {"field": "v2", "type": "quantitative"}, "angle": {"field": "dir", "type": "quantitative", "scale": null}}
        }
      ]
    },
    {
      "width": 322,
      "height": 682,
      "layer": [
        {
          "data": {"name": "curves"},
          "transform": [{"filter": "datum.panel === 'c'"}],
          "mark": {"type": "line", "color": "#111", "strokeWidth": 2, "clip": true, "interpolate": "monotone"},
          "encoding": {
            "x": {"field": "T", "type": "quantitative", "scale": {"domain": [-3, 513], "nice": false, "zero": false},
              "axis": {"title": "Temperature (°C)", "values": [0, 50, 100, 150, 200, 250, 300, 350, 400, 450, 500],
                "labelExpr": "datum.value % 100 === 0 ? datum.label : ''",
                "tickSize": {"condition": {"test": "datum.value % 100 === 0", "value": 13}, "value": 5}}},
            "y": {"field": "v", "type": "quantitative", "scale": {"domain": [-1.07, 80], "nice": false, "zero": false},
              "axis": {"title": null, "labels": false, "values": [0, 10, 20, 30, 40, 50, 60, 70, 80], "tickSize": -5}},
            "detail": {"field": "series"},
            "strokeDash": {"field": "kind", "type": "nominal", "legend": null,
              "scale": {"domain": ["fresh", "h5", "h12", "Ag", "MOR"], "range": [[9, 6], [1, 0], [9, 4, 2, 4, 2, 4], [10, 4, 2, 4], [2, 5]]}}
          }
        },
        {
          "data": {"name": "labels"},
          "transform": [{"filter": "datum.text === 'Cu(1.5)Ag(1.5)'"}],
          "mark": {"type": "text", "font": "Liberation Sans", "fontSize": 26, "color": "#111"},
          "encoding": {"x": {"field": "T", "type": "quantitative"}, "y": {"field": "v", "type": "quantitative"}, "text": {"field": "text"}}
        },
        {
          "data": {"name": "labels"},
          "transform": [{"filter": "datum.text === 'Cu(1.5)Ag(1.5)-5'"}],
          "mark": {"type": "text", "font": "Liberation Sans", "fontSize": 26, "color": "#111", "angle": -65},
          "encoding": {"x": {"field": "T", "type": "quantitative"}, "y": {"field": "v", "type": "quantitative"}, "text": {"field": "text"}}
        },
        {
          "data": {"name": "labels"},
          "transform": [{"filter": "datum.text === 'Cu(1.5)Ag(1.5)-12'"}],
          "mark": {"type": "text", "font": "Liberation Sans", "fontSize": 26, "color": "#111", "angle": -63},
          "encoding": {"x": {"field": "T", "type": "quantitative"}, "y": {"field": "v", "type": "quantitative"}, "text": {"field": "text"}}
        },
        {
          "data": {"name": "tags"},
          "transform": [{"filter": "datum.panel === 'c'"}],
          "mark": {"type": "text", "font": "Liberation Sans", "fontSize": 46, "fontWeight": "bold", "color": "#111"},
          "encoding": {"x": {"field": "T", "type": "quantitative"}, "y": {"field": "v", "type": "quantitative"}, "text": {"field": "text"}}
        },
        {
          "data": {"name": "arrows"},
          "transform": [{"filter": "datum.panel === 'c'"}],
          "mark": {"type": "rule", "color": "#222", "strokeWidth": 1.2},
          "encoding": {"x": {"field": "T", "type": "quantitative"}, "y": {"field": "v", "type": "quantitative"}, "x2": {"field": "T2"}, "y2": {"field": "v2"}}
        },
        {
          "data": {"name": "arrows"},
          "transform": [{"filter": "datum.panel === 'c'"}],
          "mark": {"type": "point", "shape": "M0,0L0.6,2.2L-0.6,2.2Z", "filled": true, "color": "#111", "size": 90, "opacity": 1},
          "encoding": {"x": {"field": "T2", "type": "quantitative"}, "y": {"field": "v2", "type": "quantitative"}, "angle": {"field": "dir", "type": "quantitative", "scale": null}}
        }
      ]
    }
  ],
  "config": {
    "view": {"stroke": "#9a9a9a", "strokeWidth": 1.5},
    "font": "Liberation Sans",
    "axis": {
      "domain": false,
      "grid": false,
      "labelOverlap": false,
      "labelBound": false,
      "tickColor": "#8a8a8a",
      "tickWidth": 1.2,
      "labelFont": "Liberation Sans",
      "labelFontSize": 24,
      "labelColor": "#333",
      "labelPadding": 4,
      "titleFont": "Liberation Sans",
      "titleFontWeight": "normal",
      "titleFontSize": 22,
      "titleColor": "#222",
      "titlePadding": 6
    }
  }
}
